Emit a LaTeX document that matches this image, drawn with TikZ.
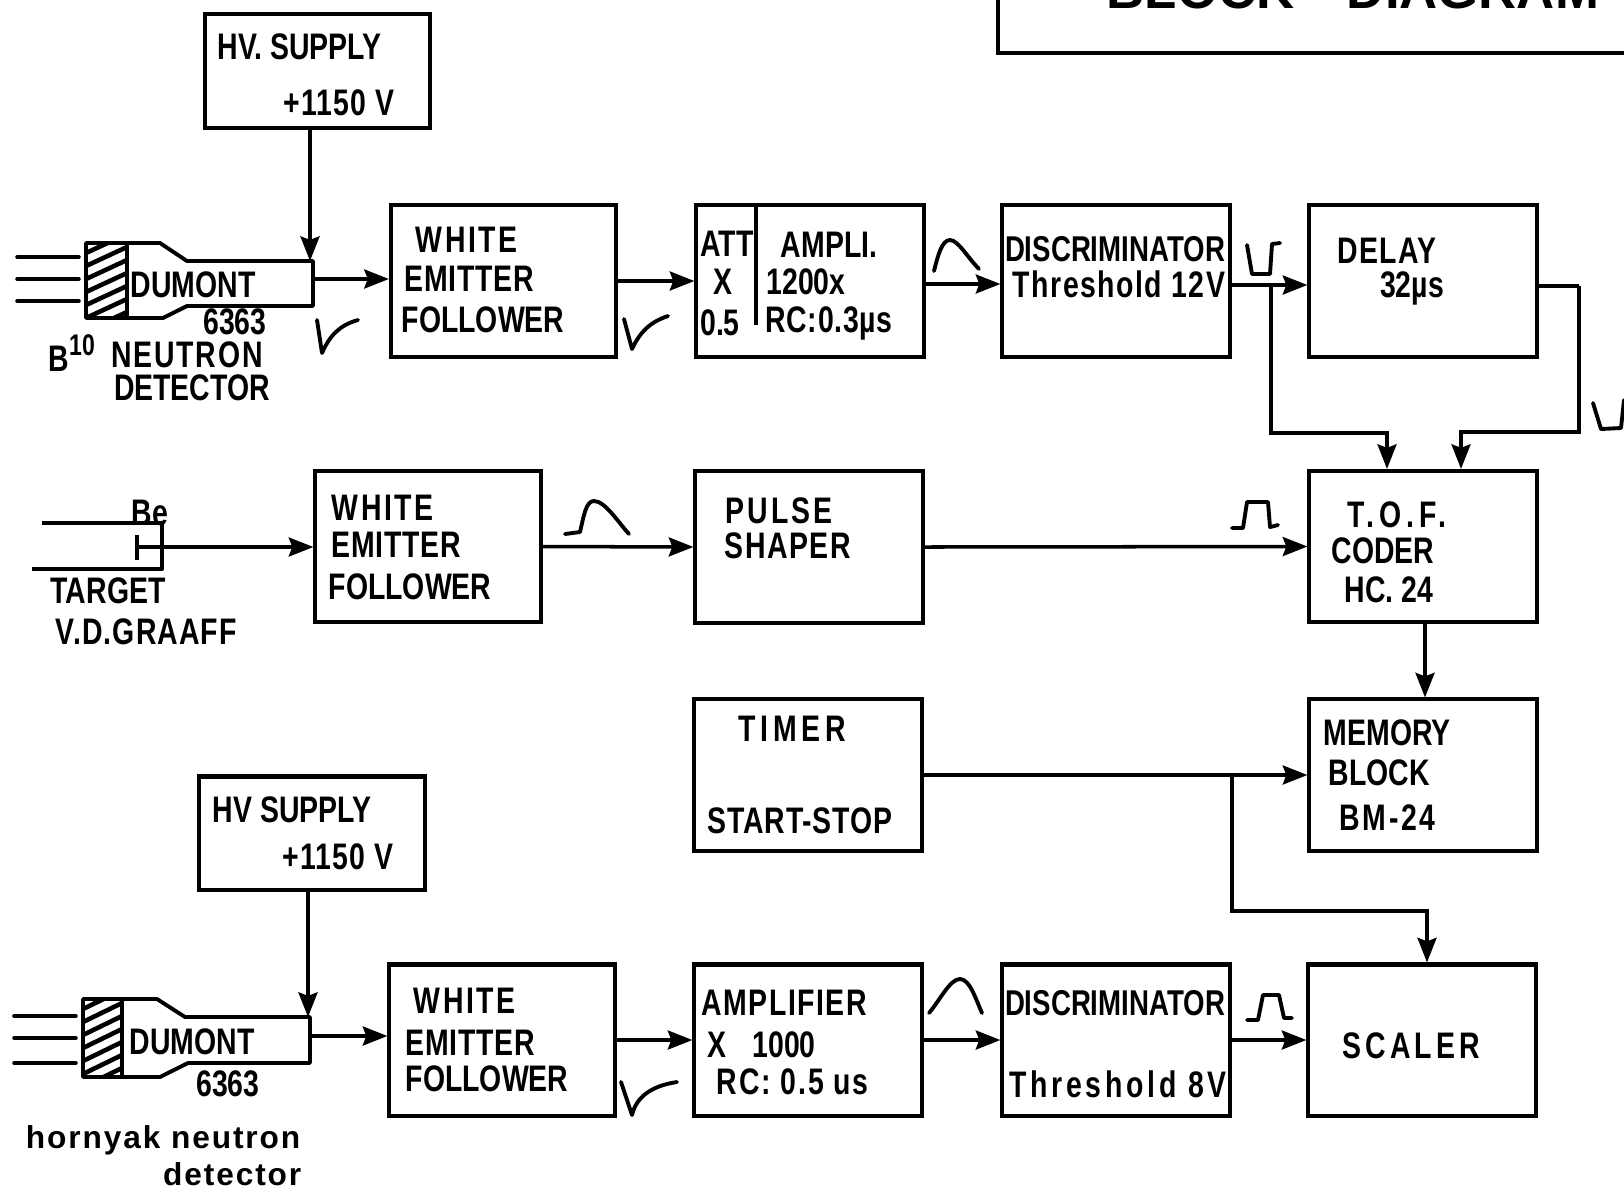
\documentclass[tikz,border=0pt]{standalone}
\usepackage{fontspec}
\usetikzlibrary{arrows.meta}
\setmainfont[FakeStretch=0.77]{Liberation Sans Bold}
\newfontfamily\widefont{Liberation Sans Bold}
\tikzset{
    blk/.style={draw, line width=1.15pt, minimum width=2.27cm, minimum height=1.51cm},
    hvblk/.style={blk, minimum height=1.13cm},
    lbl/.style={inner sep=0pt, font=\fontsize{10.5}{12}\selectfont},
    lbw/.style={lbl, anchor=west},
    spc/.style={inner sep=0pt, font=\fontsize{10.5}{12}\selectfont\addfontfeature{LetterSpace=#1}},
    spw/.style={spc=#1, anchor=west},
    dsc/.style={inner sep=0pt, font=\fontsize{10.2}{12}\selectfont},
    low/.style={inner sep=0pt, anchor=east, font=\widefont\fontsize{9}{11}\selectfont\addfontfeature{LetterSpace=6}},
    sig/.style={line width=1pt, -{Stealth[length=7pt, width=5.4pt, inset=1pt]}},
    wire/.style={line width=1pt},
    tube/.style={line width=1.1pt, line join=round},
    pulse/.style={line width=1.1pt, line join=round, line cap=round},
}
\begin{document}
\begin{tikzpicture}[x=0.01cm, y=-0.01cm]
    \useasboundingbox (0,0) rectangle (1624,1190);

    % title box, cut by the page
    \node[draw, line width=1.15pt, minimum width=7cm, minimum height=1cm, anchor=south west] (titlebox) at (996,55) {};
    \node[inner sep=0pt, anchor=base west, font=\widefont\fontsize{15}{18}\selectfont] (title) at (1106,8) {BLOCK\hspace{15pt}DIAGRAM};

    % boxes
    \node[hvblk, minimum width=2.25cm] (hvA) at (317.5,71) {};
    \node[blk, minimum width=2.25cm] (wefA) at (503.5,281) {};
    \node[blk] (attA) at (810,281) {};
    \node[blk] (discA) at (1116,281) {};
    \node[blk] (delayA) at (1423,281) {};
    \node[blk, minimum width=2.25cm] (wefB) at (428,546.5) {};
    \node[blk] (shaper) at (809,547) {};
    \node[blk] (tof) at (1423,546.5) {};
    \node[blk] (timer) at (808,775) {};
    \node[blk] (memory) at (1423,775) {};
    \node[hvblk, minimum width=2.25cm] (hvC) at (312,833) {};
    \node[blk, minimum width=2.25cm] (wefC) at (502,1040) {};
    \node[blk] (ampC) at (808,1040) {};
    \node[blk] (discC) at (1116,1040) {};
    \node[blk] (scaler) at (1422,1040) {};

    % box texts
    \node[lbw] (hvAa) at (217,47) {HV. SUPPLY};
    \node[spc=3] (hvAb) at (339,103) {+1150 V};
    \node[spw=7] (wefAa) at (415,240) {WHITE};
    \node[spw=2] (wefAb) at (404,279) {EMITTER};
    \node[lbw] (wefAc) at (401,320) {FOLLOWER};
    \node[lbl] (attAa) at (727,244) {ATT};
    \node[lbl] (attAb) at (723,282) {X};
    \node[lbl] (attAc) at (720,323) {0.5};
    \node[lbl] (attAd) at (829,245) {AMPLI.};
    \node[lbl] (attAe) at (806,282) {1200x};
    \node[spc=2] (attAf) at (829,323) {RC:0.3µs};
    \node[dsc] (discAa) at (1115,249) {DISCRIMINATOR};
    \node[spc=4] (discAb) at (1119,284) {Threshold 12V};
    \node[spc=4] (delayAa) at (1387,251) {DELAY};
    \node[lbl] (delayAb) at (1412,288) {32µs};
    \node[spw=7] (wefBa) at (331,508) {WHITE};
    \node[spw=2] (wefBb) at (331,545) {EMITTER};
    \node[lbw] (wefBc) at (328,587) {FOLLOWER};
    \node[spw=8] (shapera) at (725,511) {PULSE};
    \node[spw=4] (shaperb) at (724,546) {SHAPER};
    \node[spc=13] (tofa) at (1397,515) {T.O.F.};
    \node[lbw] (tofb) at (1331,551) {CODER};
    \node[lbw] (tofc) at (1344,590) {HC. 24};
    \node[spc=13] (timera) at (792,729) {TIMER};
    \node[spc=2] (timerb) at (800,821) {START-STOP};
    \node[lbw] (memorya) at (1323,733) {MEMORY};
    \node[lbw] (memoryb) at (1328,773) {BLOCK};
    \node[spw=7] (memoryc) at (1339,818) {BM-24};
    \node[lbw] (hvCa) at (212,810) {HV SUPPLY};
    \node[spc=3] (hvCb) at (338,857) {+1150 V};
    \node[spw=7] (wefCa) at (413,1001) {WHITE};
    \node[spw=2] (wefCb) at (405,1043) {EMITTER};
    \node[lbw] (wefCc) at (405,1079) {FOLLOWER};
    \node[spw=4] (ampCa) at (701,1003) {AMPLIFIER};
    \node[lbw] (ampCb) at (707,1045) {X};
    \node[lbl] (ampCc) at (784,1045) {1000};
    \node[spw=5] (ampCd) at (716,1082) {RC: 0.5 us};
    \node[dsc] (discCa) at (1115,1003) {DISCRIMINATOR};
    \node[spc=10] (discCb) at (1118,1084) {Threshold 8V};
    \node[spc=11] (scalera) at (1411,1046) {SCALER};

    % first detector
    \draw[tube] (86,243) -- (160,243) -- (187,261) -- (313,261) -- (313,306)
        -- (187,306) -- (163,318) -- (86,318) -- cycle;
    \draw[tube] (127,243) -- (127,318);
    \begin{scope}
        \clip (86,243) rectangle (127,318);
        \foreach \h in {0,13,...,104} {
            \draw[line width=1.3pt] (86,{240+\h}) -- (127,{221+\h});
        }
    \end{scope}
    \foreach \h in {257,279,301} {
        \draw[wire, line cap=round] (17,\h) -- (79,\h);
    }
    \coordinate (tubeAtop) at (310,261);
    \coordinate (tubeAout) at (313,279);
    \node[lbw] (dumA) at (130,285) {DUMONT};
    \node[lbl] (numA) at (235,322) {6363};
    \node[lbw] (boronA) at (48,353) {B\raisebox{0.8ex}{\fontsize{8.5}{10}\selectfont 10}};
    \node[spc=5] (neutA) at (187,355) {NEUTRON};
    \node[lbl] (detA) at (192,388) {DETECTOR};

    % beam target
    \draw[tube] (42,523) -- (162,523) -- (162,569) -- (32,569);
    \draw[tube] (137,535) -- (137,560);
    \coordinate (targetA) at (137,547);
    \node[lbl] (beA) at (150,513) {Be};
    \node[lbw] (targetB) at (50,591) {TARGET};
    \node[spw=3] (graaff) at (55,632) {V.D.GRAAFF};

    % second detector
    \draw[tube] (83,999) -- (157,999) -- (185,1017) -- (310,1017) -- (310,1063)
        -- (188,1063) -- (160,1077) -- (83,1077) -- cycle;
    \draw[tube] (122,999) -- (122,1077);
    \begin{scope}
        \clip (83,999) rectangle (122,1077);
        \foreach \h in {0,13,...,104} {
            \draw[line width=1.3pt] (83,{996+\h}) -- (122,{977+\h});
        }
    \end{scope}
    \foreach \h in {1016,1038,1063} {
        \draw[wire, line cap=round] (14,\h) -- (76,\h);
    }
    \coordinate (tubeCtop) at (308,1017);
    \coordinate (tubeCout) at (310,1036);
    \node[lbw] (dumC) at (129,1042) {DUMONT};
    \node[lbl] (numC) at (228,1084) {6363};
    \node[low] (hornA) at (301,1140) {hornyak neutron};
    \node[low] (hornB) at (302,1174) {detector};

    % connectors, top row
    \draw[sig] (hvA.south -| tubeAtop) -- (tubeAtop);
    \draw[sig] (tubeAout) -- (tubeAout -| wefA.west);
    \draw[sig] (wefA.east) -- (attA.west);
    \draw[wire] (attA.north -| 756,0) -- (756,325);
    \draw[sig] ([yshift=-0.03cm]attA.east) -- ([yshift=-0.03cm]discA.west);
    \draw[sig] ([yshift=-0.04cm]discA.east) -- ([yshift=-0.04cm]delayA.west);
    \coordinate (tapA) at (1271,285);
    \coordinate (tapB) at (1579,286);
    \draw[sig] (tapA) |- (1387,433) -- (tof.north -| 1387,0);
    \draw[sig] ([yshift=-0.05cm]delayA.east) -| (tapB) |- (1461,432) -- (tof.north -| 1461,0);

    % connectors, middle
    \draw[sig] (targetA) -- (targetA -| wefB.west);
    \draw[sig] (wefB.east) -- (shaper.west);
    \draw[sig] (shaper.east) -- (tof.west);
    \draw[sig] (tof.south -| 1425,0) -- (memory.north -| 1425,0);
    \draw[sig] (timer.east) -- (memory.west);
    \coordinate (tapC) at (1232,775);
    \draw[sig] (tapC) |- (1427,911) -- (scaler.north -| 1427,0);

    % connectors, bottom row
    \draw[sig] (hvC.south -| tubeCtop) -- (tubeCtop);
    \draw[sig] (tubeCout) -- (tubeCout -| wefC.west);
    \draw[sig] (wefC.east) -- (ampC.west);
    \draw[sig] (ampC.east) -- (discC.west);
    \draw[sig] (discC.east) -- (scaler.west);

    % pulse sketches
    \draw[pulse] (317,320) -- (322,353) .. controls (330,335) and (340,325) .. (358,320);
    \draw[pulse] (624,319) -- (632,349) .. controls (640,332) and (650,322) .. (668,316);
    \draw[pulse] (934,271) .. controls (938,255) and (942,240) .. (950,240) .. controls (958,240) and (968,258) .. (979,269);
    \draw[pulse] (1247,245) -- (1252,274) -- (1270,274) -- (1272,244) -- (1280,243);
    \draw[pulse] (1593,403) -- (1601,429) -- (1621,428) -- (1624,400);
    \draw[pulse] (565,534) -- (580,532) .. controls (584,515) and (586,501) .. (594,501) .. controls (605,501) and (618,522) .. (629,534);
    \draw[pulse] (1232,528) -- (1243,528) -- (1247,502) -- (1268,502) -- (1270,527) -- (1278,525);
    \draw[pulse] (621,1082) -- (632,1115) .. controls (636,1098) and (650,1086) .. (677,1082);
    \draw[pulse] (929,1013) .. controls (940,1000) and (950,979) .. (960,979) .. controls (970,979) and (976,1000) .. (982,1013);
    \draw[pulse] (1247,1020) -- (1258,1020) -- (1263,995) -- (1279,995) -- (1284,1018) -- (1292,1018);
\end{tikzpicture}
\end{document}
